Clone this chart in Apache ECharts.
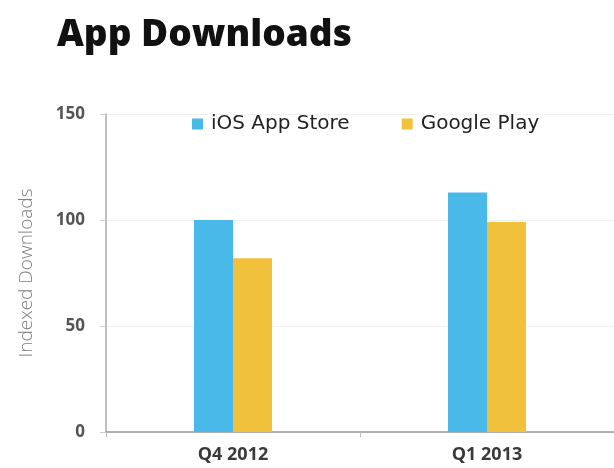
<!DOCTYPE html>
<html>
<head>
<meta charset="utf-8">
<script src="https://cdn.jsdelivr.net/npm/echarts@6/dist/echarts.min.js"></script>
<style>
html,body{margin:0;padding:0;background:#fff;}
#chart{width:614px;height:468px;}
</style>
</head>
<body>
<div id="chart"></div>
<script>
const titleText = "App Downloads";
const categories = ["Q4 2012", "Q1 2013"];
const seriesNames = ["iOS App Store", "Google Play"];
const iosValues = [100, 113];
const googleValues = [82, 99];
const yTicks = [0, 50, 100, 150];
const yAxisName = "Indexed Downloads";

const chart = echarts.init(document.getElementById('chart'), null, {renderer: 'canvas'});
chart.setOption({
  backgroundColor: '#ffffff',
  animation: false,
  title: {
    text: titleText,
    left: 52,
    top: 12,
    textStyle: {fontFamily: 'Open Sans', fontWeight: 800, fontSize: 37, color: '#111'}
  },
  legend: {
    top: 114,
    left: 192,
    padding: 0,
    itemWidth: 11,
    itemHeight: 11,
    itemGap: 52,
    icon: 'rect',
    textStyle: {fontFamily: 'DejaVu Sans', fontSize: 20, color: '#222', padding: [0, 0, 0, 3]},
    data: seriesNames
  },
  grid: {left: 106, right: -4, top: 114, bottom: 36, containLabel: false},
  xAxis: {
    type: 'category',
    data: categories,
    axisLine: {lineStyle: {color: '#999', width: 1.5}},
    axisTick: {show: true, length: 5, lineStyle: {color: '#bbb'}},
    axisLabel: {fontFamily: 'Open Sans', fontWeight: 'bold', fontSize: 18, color: '#3a3a3a', margin: 14}
  },
  yAxis: {
    type: 'value',
    min: yTicks[0],
    max: yTicks[yTicks.length - 1],
    interval: 50,
    name: yAxisName,
    nameLocation: 'middle',
    nameGap: 70,
    nameRotate: 90,
    nameTextStyle: {fontFamily: 'Open Sans', fontWeight: 300, fontSize: 19, color: '#808080'},
    axisLine: {show: true, lineStyle: {color: '#aaa', width: 1.5}},
    axisTick: {show: true, length: 6, lineStyle: {color: '#ccc'}},
    axisLabel: {fontFamily: 'Open Sans', fontWeight: 'bold', fontSize: 17, color: '#555', margin: 21},
    splitLine: {show: true, lineStyle: {color: '#f0f0f0'}}
  },
  series: [
    {name: seriesNames[0], type: 'bar', data: iosValues, barWidth: 39, barGap: '0%',
     itemStyle: {color: '#48B9E9'}},
    {name: seriesNames[1], type: 'bar', data: googleValues, barWidth: 39, barGap: '0%',
     itemStyle: {color: '#F2C13B'}}
  ]
});
</script>
</body>
</html>
